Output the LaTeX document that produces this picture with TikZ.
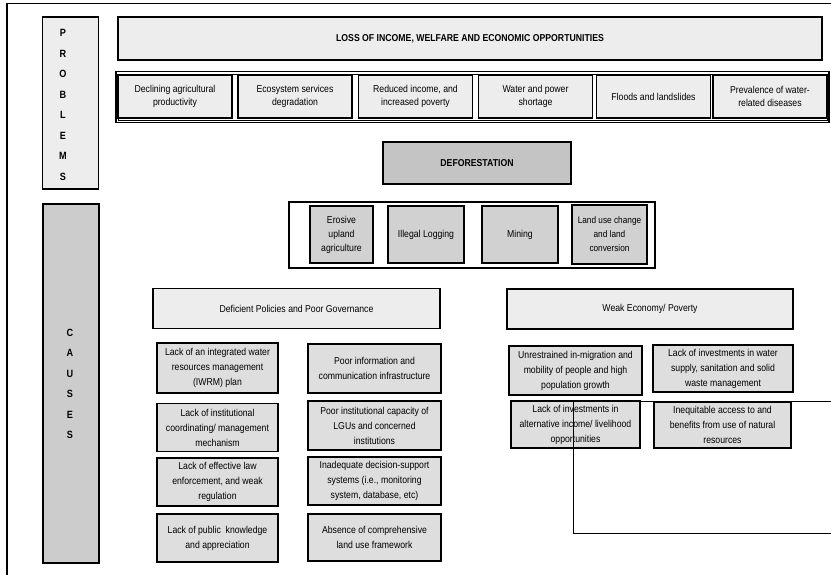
\documentclass[tikz,border=0pt]{standalone}
\usepackage{fontspec}
\setmainfont[FakeStretch=0.87]{Liberation Sans}
\usepackage{tikz}
\colorlet{lightfill}{black!7}
\colorlet{paleside}{black!7}
\colorlet{darkside}{black!20}
\colorlet{deforest}{black!23}
\colorlet{driver}{black!18}
\colorlet{causefill}{black!13}
\tikzset{
  every box/.style={draw,line width=1.4pt,align=center,inner sep=0pt},
  side/.style={every box,minimum width=56pt},
  problem/.style={every box,fill=lightfill,minimum width=114pt,minimum height=43pt,
    font=\fontsize{10}{13}\selectfont},
  driver/.style={every box,fill=driver,minimum height=57pt,font=\fontsize{10}{14}\selectfont},
  heading/.style={every box,fill=lightfill,minimum height=40pt,minimum width=287pt},
  cause/.style={every box,fill=causefill,minimum height=48pt,font=\fontsize{10}{15}\selectfont},
  frame/.style={draw,line width=1.4pt},
  letters/.style={font=\bfseries\fontsize{10.5}{20.5}\selectfont,align=center},
}
\begin{document}
\begin{tikzpicture}[x=1pt,y=-1pt,font=\fontsize{10}{13}\selectfont]
\useasboundingbox (0,0) rectangle (831,575);
\clip (0,0) rectangle (831,575);
\draw[line width=1.4pt] (7,600) |- (860,3.5);

\node[side,fill=paleside,minimum height=172pt] (problems) at (70.5,103) {};
\node[letters] (problemsword) at (63,105) {P\\R\\O\\B\\L\\E\\M\\S};
\node[side,fill=darkside,minimum height=359pt] (causes) at (71,383.5) {};
\node[letters] (causesword) at (70,384) {C\\A\\U\\S\\E\\S};

\node[every box,fill=lightfill,minimum width=704pt,minimum height=43pt,font=\bfseries] (loss) at (470,38.5)
  {LOSS OF INCOME, WELFARE AND ECONOMIC OPPORTUNITIES};

\draw[frame] (116,71.5) rectangle (829,122.5);
\draw[thin] (118,74) rectangle (827,120);
\node[problem] (p1) at (175,96.5) {Declining agricultural\\productivity};
\node[problem] (p2) at (295,96.5) {Ecosystem services\\degradation};
\node[problem] (p3) at (415.5,96.5) {Reduced income, and\\increased poverty};
\node[problem] (p4) at (535.5,96.5) {Water and power\\shortage};
\node[problem] (p5) at (653.5,96.5) {Floods and landslides};
\node[problem] (p6) at (770,96.5) {Prevalence of water-\\related diseases};

\node[every box,fill=deforest,minimum width=188pt,minimum height=42pt,font=\bfseries] (deforestation) at (477,163)
  {DEFORESTATION};

\draw[frame] (289,202) rectangle (655,268);
\node[driver,minimum width=63pt] (erosive) at (341.5,234.5) {Erosive\\upland\\agriculture};
\node[driver,minimum width=76pt] (logging) at (426,234.5) {Illegal Logging};
\node[driver,minimum width=76pt] (mining) at (520,234.5) {Mining};
\node[driver,minimum width=75pt,minimum height=59pt,font=\fontsize{9.5}{14}\selectfont] (landuse) at (609.5,234.5)
  {Land use change\\and land\\conversion};

\node[heading] (policies) at (296.5,308.5) {Deficient Policies and Poor Governance};
\node[heading,minimum width=286pt] (economy) at (650,309) {Weak Economy/ Poverty};

\node[cause,minimum width=121pt,minimum height=50pt] (iwrm) at (217.5,368) {Lack of an integrated water\\resources management\\(IWRM) plan};
\node[cause,minimum width=121pt] (coord) at (217.5,427.5) {Lack of institutional\\coordinating/ management\\mechanism};
\node[cause,minimum width=121pt] (enforce) at (217.5,482) {Lack of effective law\\enforcement, and weak\\regulation};
\node[cause,minimum width=121pt] (public) at (217.5,538) {Lack of public\ \ knowledge\\and appreciation};

\node[cause,minimum width=133pt,minimum height=49pt] (info) at (374.5,368.5) {Poor information and\\communication infrastructure};
\node[cause,minimum width=133pt,minimum height=49pt] (lgu) at (374.5,425.5) {Poor institutional capacity of\\LGUs and concerned\\institutions};
\node[cause,minimum width=133pt] (support) at (374.5,481) {Inadequate decision-support\\systems (i.e., monitoring\\system, database, etc)};
\node[cause,minimum width=133pt,minimum height=47pt] (landframe) at (374.5,537.5) {Absence of comprehensive\\land use framework};

\node[cause,minimum width=133pt,minimum height=49pt] (migration) at (575.5,370.5) {Unrestrained in-migration and\\mobility of people and high\\population growth};
\node[cause,minimum width=140pt,minimum height=47pt] (water) at (723,368.5) {Lack of investments in water\\supply, sanitation and solid\\waste management};
\node[cause,minimum width=129pt,minimum height=47pt] (income) at (575.5,424.5) {Lack of investments in\\alternative income/ livelihood\\opportunities};
\node[cause,minimum width=137pt,minimum height=46pt] (access) at (722.5,425) {Inequitable access to and\\benefits from use of natural\\resources};

\coordinate (strayA) at (573,401);
\coordinate (strayB) at (860,533);
\draw[line width=1pt] (strayA) rectangle (strayB);
\end{tikzpicture}
\end{document}
